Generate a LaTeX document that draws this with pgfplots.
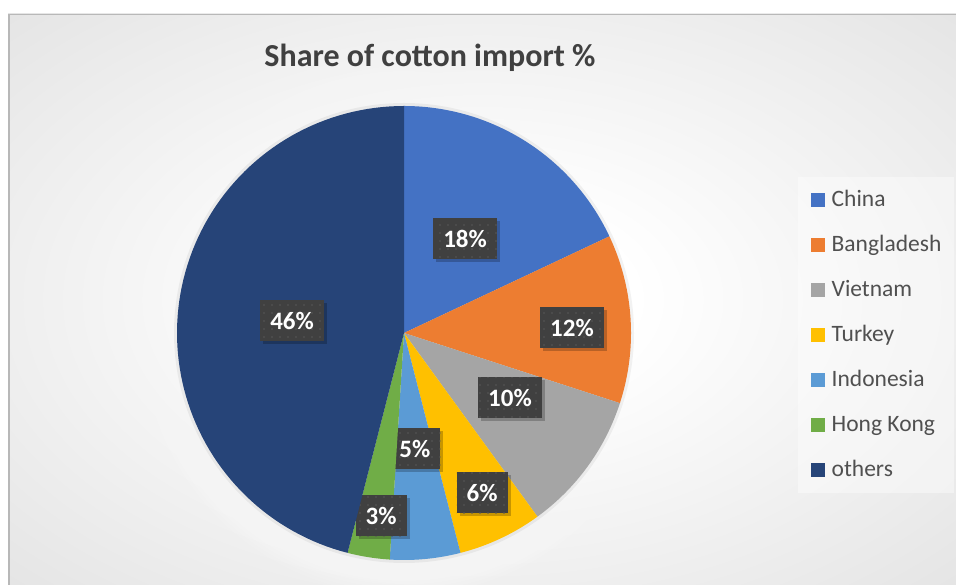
\documentclass[border=0pt]{standalone}
\usepackage{pgfplots}
\pgfplotsset{compat=1.18}
\usepackage{fontspec}
\setmainfont{Carlito}
\usetikzlibrary{patterns.meta,shadows}
\definecolor{cChina}{HTML}{4472C4}
\definecolor{cBangladesh}{HTML}{ED7D31}
\definecolor{cVietnam}{HTML}{A5A5A5}
\definecolor{cTurkey}{HTML}{FFC000}
\definecolor{cIndonesia}{HTML}{5B9BD5}
\definecolor{cHongKong}{HTML}{70AD47}
\definecolor{cOthers}{HTML}{264478}
\definecolor{lblgray}{HTML}{404040}
\definecolor{lbldot}{HTML}{585858}
\definecolor{titlegray}{HTML}{404040}
\definecolor{leggray}{HTML}{505050}
\pgfdeclareradialshading{bgshade}{\pgfpoint{0bp}{0bp}}{color(0bp)=(white); color(8bp)=(white); color(72bp)=(black!24)}
\def\angA{90}
\newcommand\slice[5]{%
  \pgfmathsetmacro\angB{\angA-3.6*#1}%
  \edef\tmp{\noexpand\addplot[draw=none, fill=#2, domain=\angB:\angA, samples=90] ({cos(x)},{sin(x)}) -- (axis cs:0,0) -- cycle;}\tmp
  \addlegendentry{#3}%
  \edef\tmp{\noexpand\node[lbl] at (axis cs:#4,#5) {#1\noexpand\%};}\tmp
  \global\let\angA\angB
}
\begin{document}
\begin{tikzpicture}[x=1bp,y=1bp,
  lbl/.style={fill=lblgray, text=white, font=\bfseries\fontsize{25bp}{25bp}\selectfont,
    inner xsep=10bp, inner ysep=0bp, minimum height=41bp,
    drop shadow={shadow xshift=3bp, shadow yshift=-3bp, opacity=0.22, fill=black},
    postaction={pattern={Dots[distance=8bp, radius=0.8bp]}, pattern color=lbldot}}]
\useasboundingbox (0,0) rectangle (956,585);
\fill[white] (0,0) rectangle (956,585);
\shade[shading=bgshade] (8,0) rectangle (956,571);
\draw[black!28, line width=1.5bp] (8.75,0) -- (8.75,570.25) -- (956,570.25);
\foreach \k in {1,...,10}{\pgfmathsetmacro\rr{227+3.5*\k}\fill[white, opacity=0.09] (404,252) circle[radius=\rr bp];}
\fill[black, opacity=0.05] (404,252) circle[radius=230bp];
\node[anchor=base, font=\bfseries\fontsize{32bp}{32bp}\selectfont, text=titlegray] at (430,518.3) {Share of cotton import \%};
\begin{axis}[hide axis, x=227bp, y=227bp, xmin=-1, xmax=1, ymin=-1, ymax=1,
  at={(404bp,252bp)}, anchor=center, clip=false,
  legend image code/.code={\fill[#1, fill opacity=1] (0bp,-7bp) rectangle (14bp,7bp);},
  legend cell align=left,
  legend style={at={(1.368,0.8435)}, anchor=north west, draw=none, fill=white, fill opacity=0.4, text opacity=1,
    font=\fontsize{23.5bp}{28bp}\selectfont, text=leggray,
    inner xsep=12.7bp, inner ysep=12.7bp, row sep=25bp,
    nodes={inner sep=0bp, text height=17bp, text depth=3bp},
    /tikz/every odd column/.append style={column sep=6.7bp}}]
\slice{18}{cChina}{China}{0.269}{0.416}
\slice{12}{cBangladesh}{Bangladesh}{0.740}{0.022}
\slice{10}{cVietnam}{Vietnam}{0.467}{-0.286}
\slice{6}{cTurkey}{Turkey}{0.344}{-0.703}
\slice{5}{cIndonesia}{Indonesia}{0.048}{-0.511}
\slice{3}{cHongKong}{Hong Kong}{-0.101}{-0.804}
\slice{46}{cOthers}{others}{-0.493}{0.055}
\end{axis}
\end{tikzpicture}
\end{document}
